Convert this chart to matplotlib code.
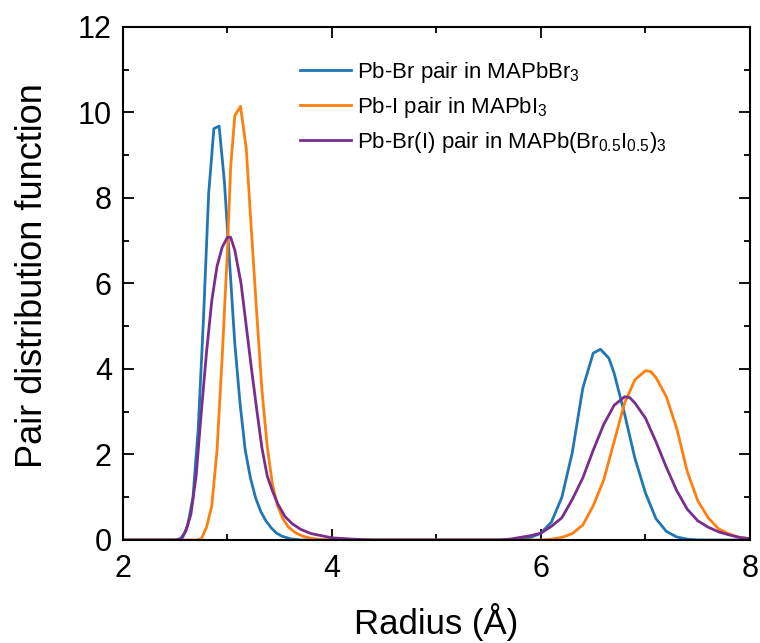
import numpy as np
import matplotlib
matplotlib.use("Agg")
import matplotlib.pyplot as plt
from matplotlib.ticker import MultipleLocator

plt.rcParams['font.family'] = ['Liberation Sans', 'DejaVu Sans']
plt.rcParams['mathtext.fontset'] = 'custom'
plt.rcParams['mathtext.rm'] = 'Liberation Sans'
plt.rcParams['mathtext.it'] = 'Liberation Sans'

# Pb-Br pair in MAPbBr3
r_br = [2.0, 2.5, 2.57, 2.62, 2.67, 2.72, 2.77, 2.82, 2.87, 2.92, 2.97, 3.02, 3.07,
        3.12, 3.17, 3.22, 3.27, 3.32, 3.37, 3.42, 3.47, 3.52, 3.6, 3.7,
        5.6, 5.8, 5.9, 6.0, 6.1, 6.2, 6.3, 6.4, 6.5, 6.57, 6.65, 6.7, 6.8, 6.9,
        7.0, 7.1, 7.2, 7.3, 7.4, 7.5, 8.0]
g_br = [0, 0, 0.05, 0.35, 1.0, 2.6, 5.15, 8.1, 9.62, 9.68, 8.4, 6.5, 4.6,
        3.2, 2.1, 1.45, 0.98, 0.66, 0.44, 0.28, 0.16, 0.09, 0.03, 0,
        0, 0.02, 0.06, 0.16, 0.42, 1.0, 2.05, 3.55, 4.37, 4.46, 4.25, 3.9, 2.95, 1.9,
        1.1, 0.5, 0.2, 0.07, 0.02, 0, 0]

# Pb-I pair in MAPbI3
r_i = [2.0, 2.7, 2.75, 2.8, 2.85, 2.9, 2.95, 3.0, 3.03, 3.07, 3.125, 3.18, 3.23,
       3.28, 3.33, 3.38, 3.43, 3.48, 3.53, 3.58, 3.65, 3.72, 3.8, 3.9, 4.0,
       6.0, 6.1, 6.2, 6.3, 6.4, 6.5, 6.6, 6.7, 6.8, 6.9, 7.0, 7.05, 7.1, 7.2,
       7.3, 7.4, 7.5, 7.6, 7.7, 7.8, 7.9, 8.0]
g_i = [0, 0, 0.03, 0.3, 0.8, 2.1, 4.3, 6.8, 8.7, 9.92, 10.14, 9.15, 7.2,
       5.3, 3.5, 2.2, 1.3, 0.8, 0.5, 0.31, 0.17, 0.09, 0.04, 0.01, 0,
       0, 0.02, 0.06, 0.15, 0.35, 0.8, 1.4, 2.3, 3.2, 3.75, 3.96, 3.94, 3.8, 3.35,
       2.6, 1.6, 0.92, 0.52, 0.26, 0.14, 0.06, 0.03]

# Pb-Br(I) pair in MAPb(Br0.5I0.5)3
r_mix = [2.0, 2.5, 2.55, 2.6, 2.65, 2.7, 2.75, 2.8, 2.85, 2.9, 2.95, 3.0, 3.03,
         3.07, 3.13, 3.18, 3.23, 3.28, 3.33, 3.38, 3.43, 3.48, 3.55, 3.62, 3.7,
         3.8, 3.9, 4.0, 4.2, 4.4,
         5.6, 5.7, 5.8, 5.9, 6.0, 6.1, 6.2, 6.3, 6.4, 6.5, 6.6, 6.7, 6.8, 6.85,
         6.9, 7.0, 7.1, 7.2, 7.3, 7.4, 7.5, 7.6, 7.7, 7.8, 7.9, 8.0]
g_mix = [0, 0, 0.02, 0.2, 0.6, 1.5, 3.0, 4.4, 5.6, 6.4, 6.85, 7.08, 7.08,
         6.78, 6.0, 5.0, 4.0, 3.05, 2.15, 1.5, 1.15, 0.85, 0.55, 0.38, 0.25,
         0.15, 0.1, 0.05, 0.02, 0,
         0, 0.02, 0.06, 0.1, 0.16, 0.32, 0.52, 0.95, 1.45, 2.1, 2.7, 3.15, 3.35, 3.33,
         3.2, 2.85, 2.3, 1.7, 1.15, 0.72, 0.45, 0.3, 0.19, 0.12, 0.06, 0.03]

labels = [r"Pb-Br pair in MAPbBr$_3$",
          r"Pb-I pair in MAPbI$_3$",
          r"Pb-Br(I) pair in MAPb(Br$_{0.5}$I$_{0.5}$)$_3$"]
colors = ["#1f77b4", "#ff7f0e", "#7b2d8e"]

fig = plt.figure(figsize=(7.6, 6.43), dpi=100)
ax = fig.add_axes([0.1618, 0.1602, 0.825, 0.798])

for r, g, lab, c in zip([r_br, r_i, r_mix], [g_br, g_i, g_mix], labels, colors):
    ax.plot(r, g, color=c, lw=2.0, label=lab)

ax.set_xlim(2, 8)
ax.set_ylim(0, 12)
ax.xaxis.set_major_locator(MultipleLocator(2))
ax.xaxis.set_minor_locator(MultipleLocator(1))
ax.yaxis.set_major_locator(MultipleLocator(2))
ax.yaxis.set_minor_locator(MultipleLocator(1))
ax.tick_params(which='both', direction='in', top=True, right=True, width=1.3)
ax.tick_params(which='major', length=8, labelsize=22)
ax.tick_params(axis='x', which='major', pad=10)
ax.tick_params(axis='y', which='major', pad=8)
ax.tick_params(which='minor', length=4.5)
for s in ax.spines.values():
    s.set_linewidth(1.5)

ax.set_xlabel("Radius (Å)", fontsize=25, labelpad=14)
ax.set_ylabel("Pair distribution function", fontsize=26)
ax.yaxis.set_label_coords(-0.117, 0.515)

ax.legend(loc='upper left', bbox_to_anchor=(0.25, 0.975), frameon=False,
          fontsize=16, handlelength=2.3, labelspacing=0.45, handletextpad=0.3)

fig.savefig("out.png", dpi=100)
